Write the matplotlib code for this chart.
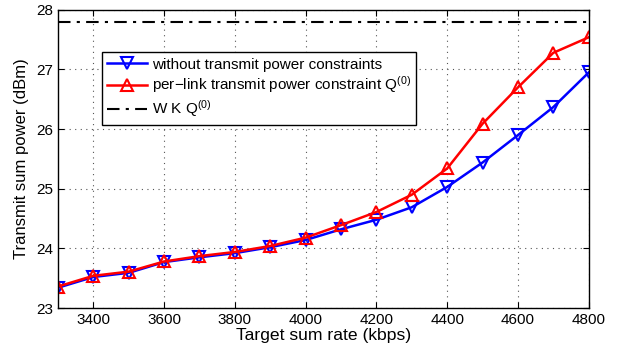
import matplotlib
matplotlib.use("Agg")
import matplotlib.pyplot as plt

plt.rcParams['font.family'] = ['Liberation Sans', 'DejaVu Sans']
plt.rcParams['mathtext.fontset'] = 'custom'
plt.rcParams['mathtext.rm'] = 'Liberation Sans'
plt.rcParams['mathtext.it'] = 'Liberation Sans'

rates = [3300, 3400, 3500, 3600, 3700, 3800, 3900, 4000, 4100, 4200, 4300, 4400, 4500, 4600, 4700, 4800]
without_constraint = [23.34, 23.52, 23.59, 23.77, 23.85, 23.92, 24.02, 24.14, 24.32, 24.48, 24.69, 25.03, 25.44, 25.90, 26.37, 26.95]
per_link = [23.36, 23.54, 23.61, 23.78, 23.87, 23.94, 24.04, 24.18, 24.39, 24.61, 24.90, 25.34, 26.09, 26.70, 27.28, 27.54]
wkq_level = 27.79

xticks = [3400, 3600, 3800, 4000, 4200, 4400, 4600, 4800]
yticks = [23, 24, 25, 26, 27, 28]

fig = plt.figure(figsize=(6.23, 3.52), dpi=100)
ax = fig.add_axes([0.093, 0.125, 0.852, 0.847])

ax.plot(rates, without_constraint, color='blue', lw=1.8, marker='v', ms=8,
        mfc='none', mew=1.5, label='without transmit power constraints')
ax.plot(rates, per_link, color='red', lw=1.8, marker='^', ms=8,
        mfc='none', mew=1.5, label='per\u2212link transmit power constraint Q$^{(0)}$')
ax.axhline(wkq_level, color='black', lw=1.5, ls=(0, (6, 3, 1.5, 3)), label='W K Q$^{(0)}$')

ax.set_xlim(3300, 4800)
ax.set_ylim(23, 28)
ax.set_xticks(xticks)
ax.set_yticks(yticks)
ax.tick_params(direction='in', top=True, right=True, labelsize=11, length=4)
ax.grid(True, color='#555555', ls=(0, (1, 4)), lw=0.8)
for s in ax.spines.values():
    s.set_linewidth(1.0)

ax.set_xlabel('Target sum rate (kbps)', fontsize=12.6, labelpad=1)
ax.set_ylabel('Transmit sum power (dBm)', fontsize=12, labelpad=5)

leg = ax.legend(loc='upper left', bbox_to_anchor=(0.083, 0.858), fontsize=11,
                frameon=True, fancybox=False, edgecolor='black', framealpha=1,
                handlelength=2.6, borderpad=0.35, labelspacing=0.2, handletextpad=0.3,
                borderaxespad=0)
leg.get_frame().set_linewidth(1.0)

fig.savefig('out.png', dpi=100)
